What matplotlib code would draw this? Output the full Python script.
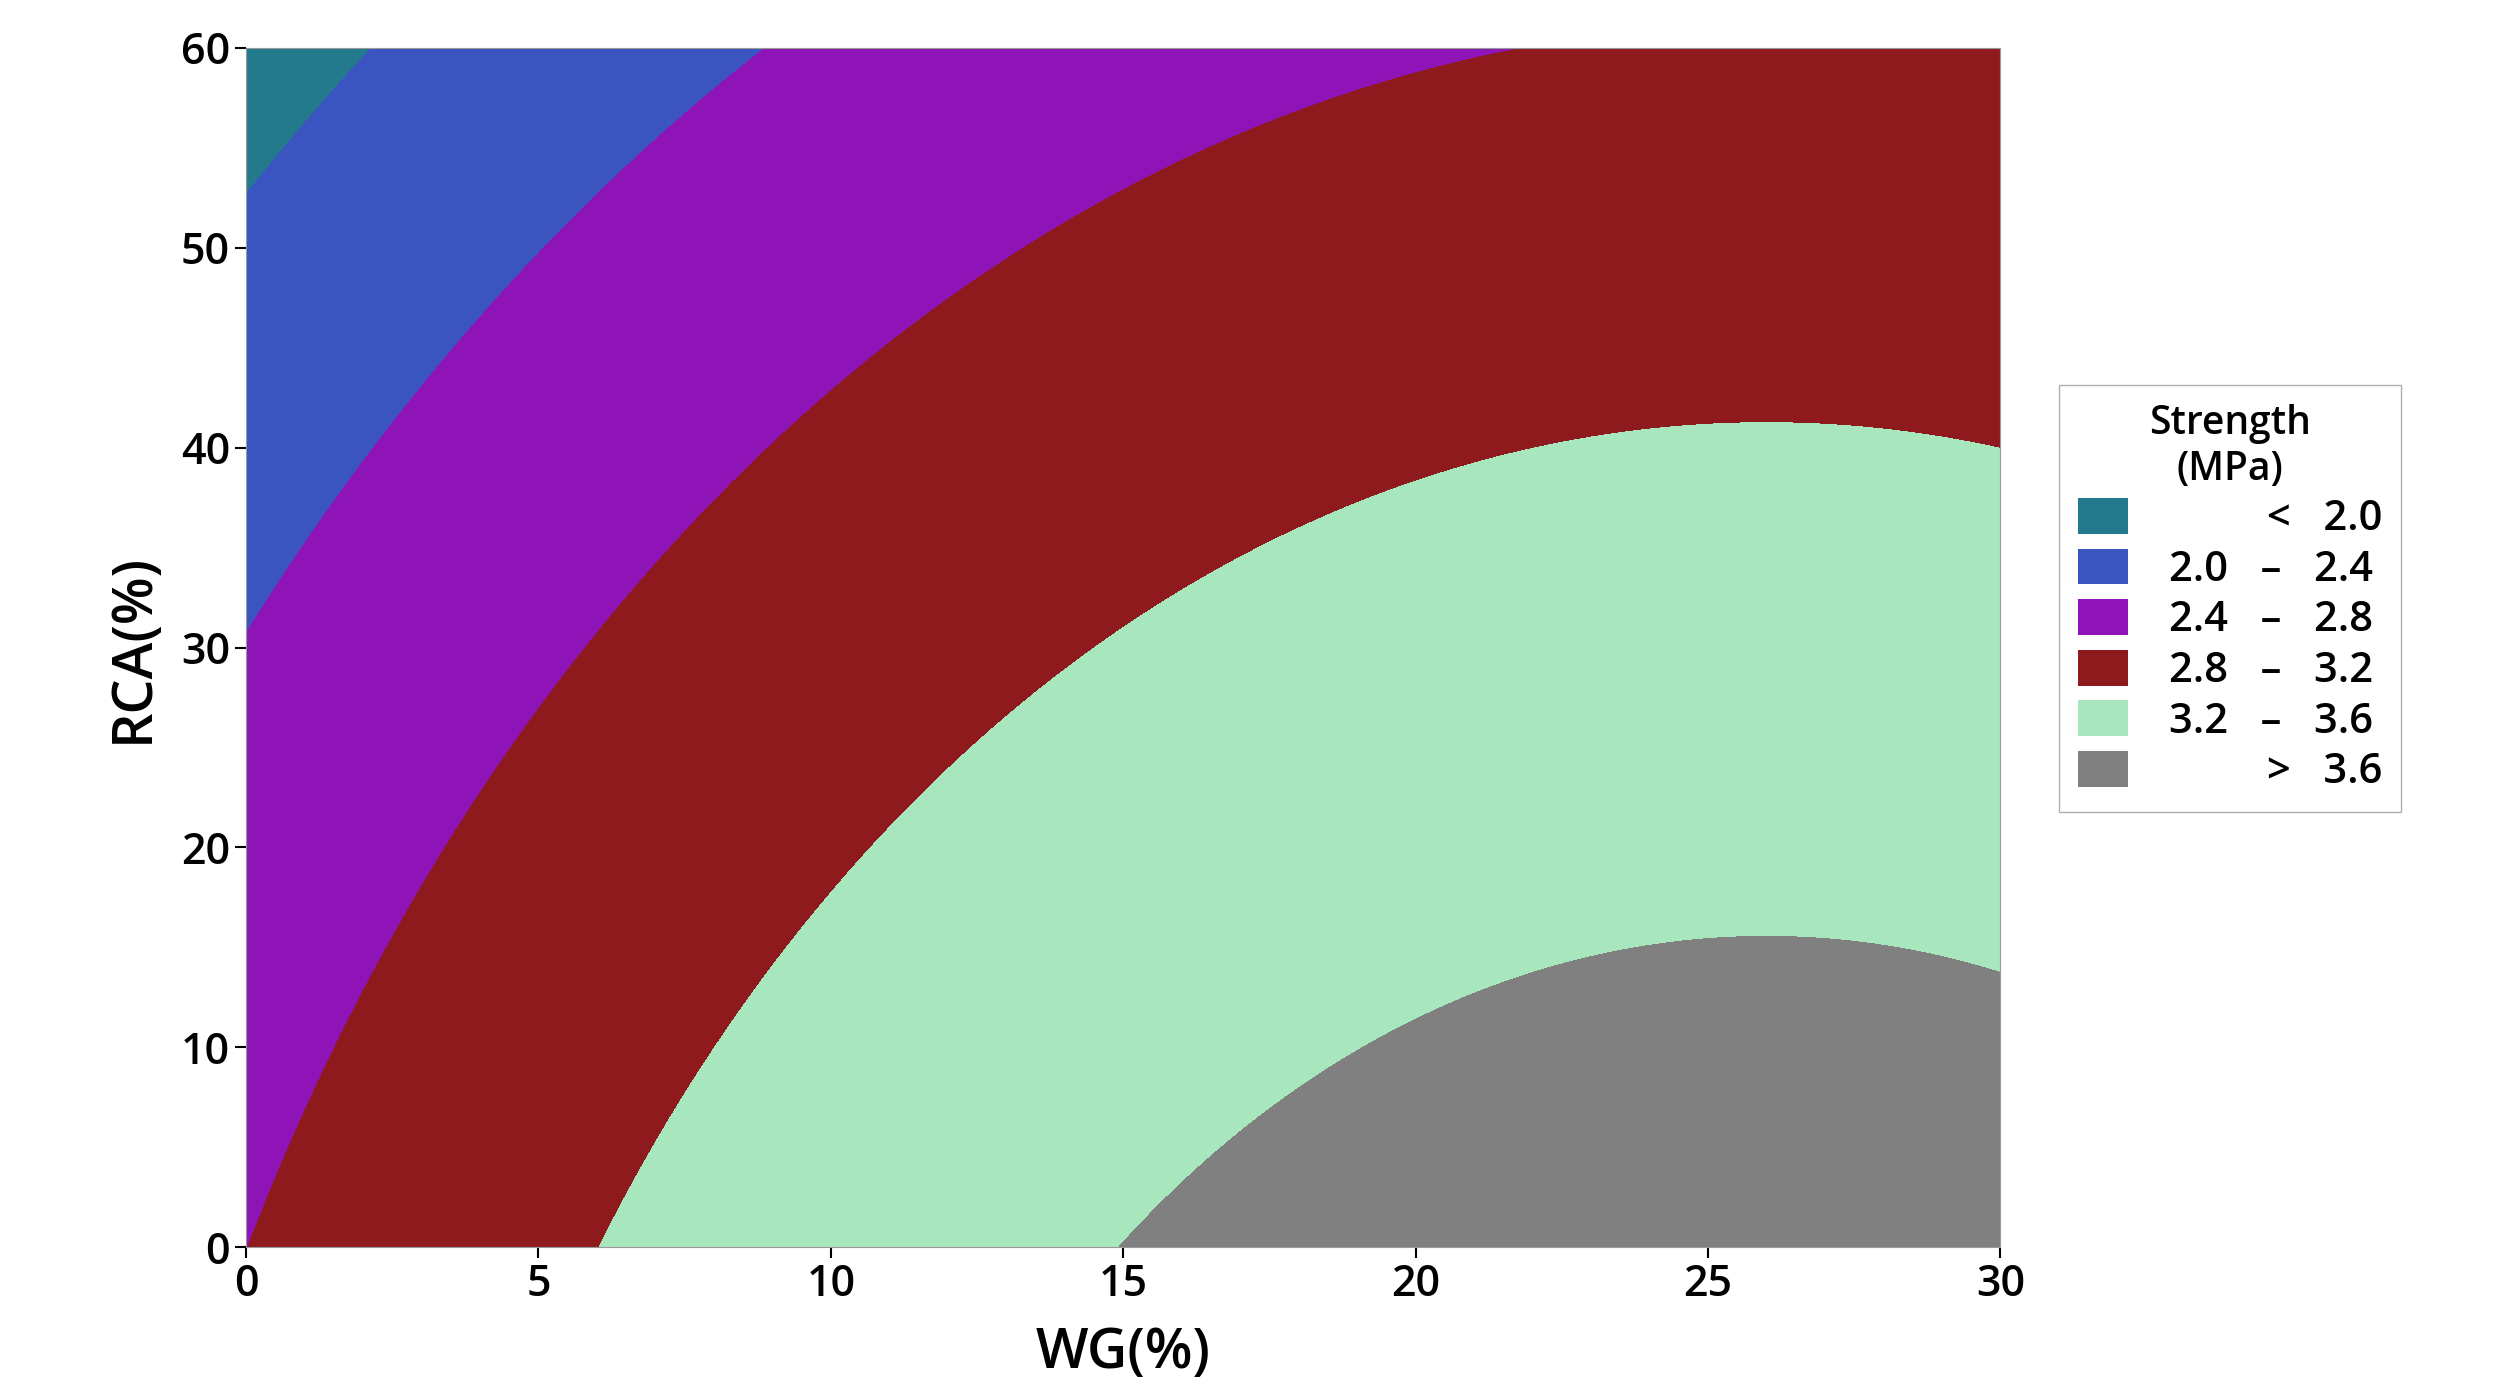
import numpy as np
import matplotlib
matplotlib.use("Agg")
import matplotlib.pyplot as plt
from matplotlib.patches import Patch

# Quadratic response-surface coefficients
wg_peak = 26.0
A_max = 3.778
k_wg = 0.00145
p_rca = 0.00989
q_rca = 0.0001000

levels = [-10, 2.0, 2.4, 2.8, 3.2, 3.6, 10]
colors = ["#237a8c", "#3b55c0", "#8e14b8", "#8f1a1d", "#a8e6bd", "#808080"]
labels = ["         <   2.0", "2.0   –   2.4", "2.4   –   2.8", "2.8   –   3.2", "3.2   –   3.6", "         >   3.6"]
xticks = [0, 5, 10, 15, 20, 25, 30]
yticks = [0, 10, 20, 30, 40, 50, 60]

plt.rcParams['font.family'] = ['Open Sans', 'DejaVu Sans']
fig = plt.figure(figsize=(25.1, 14), dpi=100)
ax = fig.add_axes([0.098, 0.109, 0.699, 0.857])
W, R = np.meshgrid(np.linspace(0, 30, 600), np.linspace(0, 60, 600))
S = A_max - k_wg * (W - wg_peak) ** 2 - p_rca * R - q_rca * R ** 2
ax.contourf(W, R, S, levels=levels, colors=colors)
ax.set_xlim(0, 30); ax.set_ylim(0, 60)
ax.set_xticks(xticks); ax.set_yticks(yticks)
ax.tick_params(labelsize=31, length=8, width=1.5)
for t in ax.get_xticklabels() + ax.get_yticklabels():
    t.set_fontweight('semibold')
for s in ax.spines.values():
    s.set_color('#999999')
ax.set_xlabel("WG(%)", fontsize=40, fontweight='semibold', labelpad=14)
ax.set_ylabel("RCA(%)", fontsize=40, fontweight='semibold', labelpad=14)

handles = [Patch(facecolor=c, edgecolor='none') for c in colors]
leg = fig.legend(handles, labels, loc='upper left', bbox_to_anchor=(0.812, 0.74),
                 title="Strength\n(MPa)", fontsize=30, title_fontsize=28,
                 frameon=True, fancybox=False, edgecolor='#999999',
                 handlelength=1.2, handleheight=0.95, labelspacing=0.2,
                 borderpad=0.45, handletextpad=1.0)
leg.get_title().set_fontweight('semibold')
leg.get_title().set_multialignment('center')
leg._legend_box.align = "center"
for t in leg.get_texts():
    t.set_fontweight('semibold')
fig.savefig("out.png", dpi=100)
